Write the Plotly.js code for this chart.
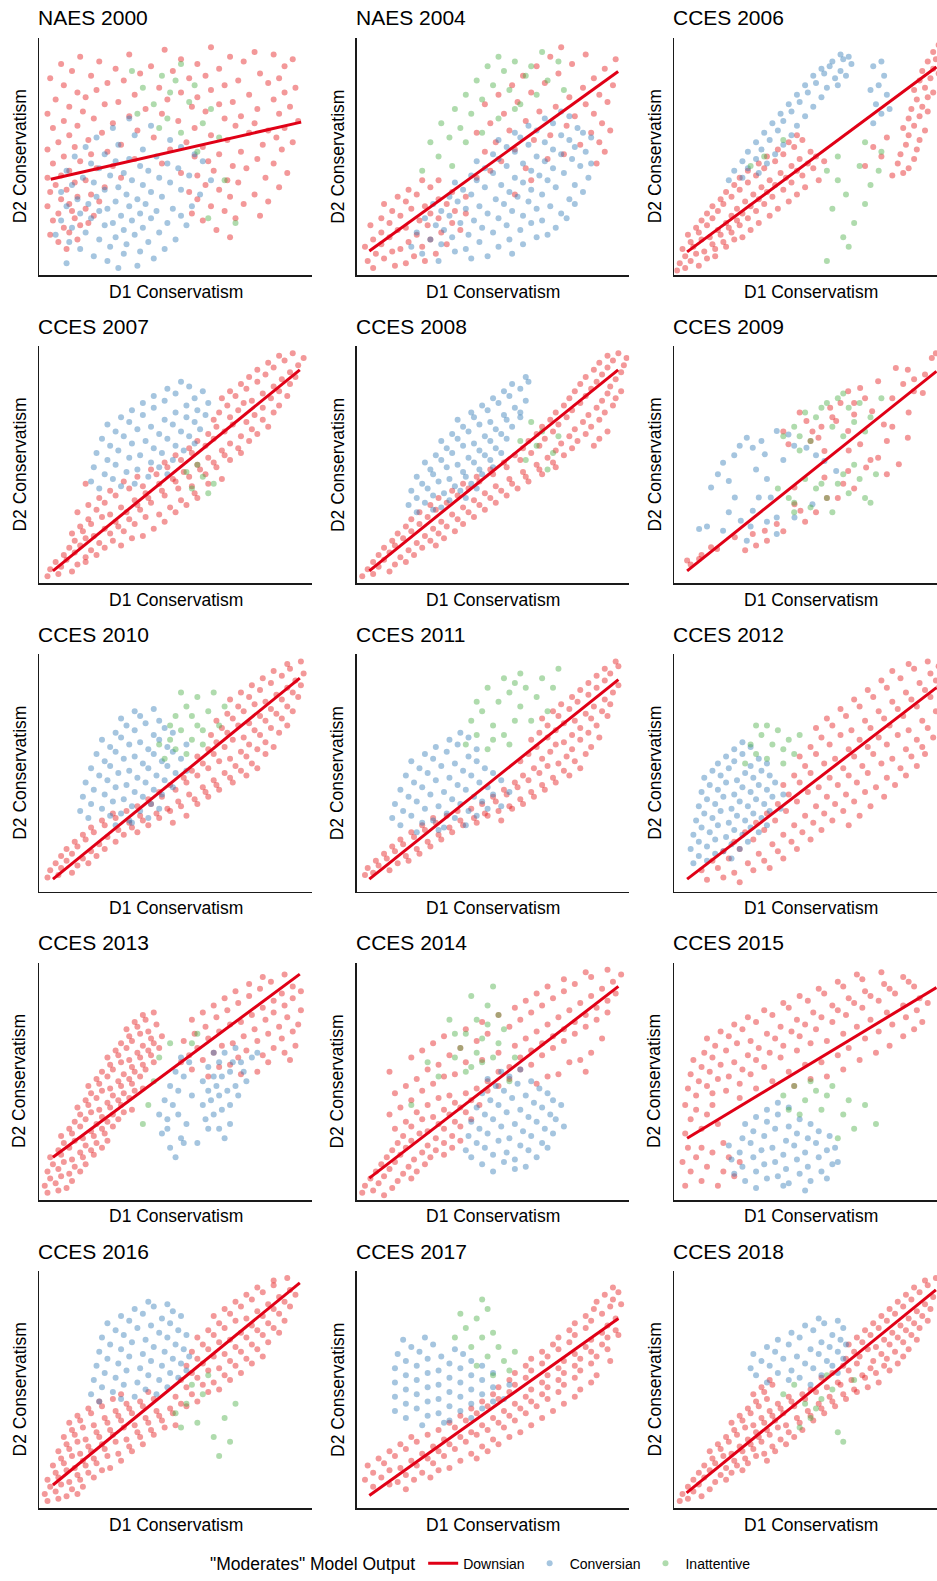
<!DOCTYPE html>
<html><head><meta charset="utf-8">
<script src="https://cdn.plot.ly/plotly-3.0.1.min.js"></script>
<style>html,body{margin:0;padding:0;overflow:hidden;background:#fff}#chart{width:950px;height:1581px}</style>
</head><body><div id="chart"></div>
<script>
// Panel titles (row-major, 3 columns x 5 rows)
const panelTitles = ["NAES 2000","NAES 2004","CCES 2006","CCES 2007","CCES 2008","CCES 2009","CCES 2010","CCES 2011","CCES 2012","CCES 2013","CCES 2014","CCES 2015","CCES 2016","CCES 2017","CCES 2018"];
const classNames = ["Downsian","Conversian","Inattentive"];
const xTitle = "D1 Conservatism";
const yTitle = "D2 Conservatism";
const legendTitle = "\"Moderates\" Model Output";

// Fitted line endpoints per panel: [x0, y0, x1, y1] (axes are unlabelled, 0-100 scale)
const fitLines = [[4.2,40.4,96.1,64.5],[4.6,10.2,95.9,85.8],[4.7,9.8,96.2,87.7],[5,5.3,95.6,90],[4.6,5.3,95.9,90],[4.7,5.3,96.2,89.4],[5,5.3,95.6,90],[4.6,5.3,96,89.4],[4.7,5.3,96.2,86],[5,18,95.6,95.2],[4.6,9.2,96,90],[4.7,26,96.2,89.5],[5,9.8,95.6,95],[4.6,5.4,96,80],[4.5,6.5,96,92]];

// Point arrays: flat [x1,y1, x2,y2, ...] on the unlabelled 0-100 axes.
// ---- NAES 2000
const naes2000Downsian = [46,95,63,96,79,94,15,92,33,93,52,91,70,92,86,93,93,91,8,89,22,90,41,88,58,89,75,90,90,88,12,86,28,87,37,85,49,86,66,87,81,85,4,83,19,84,31,82,55,83,61,84,73,82,88,83,9,80,25,81,44,79,68,80,84,81,94,79,14,77,21,78,35,76,52,77,63,78,77,76,90,77,6,74,17,75,29,73,47,74,58,75,71,73,86,74,11,71,24,72,39,70,56,71,66,72,80,70,92,71,3,68,16,69,33,67,45,68,61,69,74,67,88,68,9,65,20,66,27,64,51,65,68,66,79,64,95,65,5,62,14,63,36,61,57,62,72,63,84,61,90,62,11,59,23,60,42,58,63,59,77,60,87,58,7,56,18,57,30,55,54,56,69,57,82,55,93,56,3,53,13,54,25,52,48,53,60,54,74,52,89,53,9,50,19,51,35,49,57,50,66,51,80,49,5,47,15,48,27,46,45,47,62,48,71,46,86,47,11,44,21,45,52,43,64,44,76,45,91,43,3,41,8,42,17,40,30,41,58,42,69,40,83,41,6,38,13,39,24,37,61,38,73,39,88,37,4,35,10,36,19,34,55,35,66,36,79,34,8,32,14,33,22,31,58,32,70,33,84,31,3,29,11,30,17,28,63,29,75,30,7,26,12,27,20,25,56,26,68,27,81,25,5,23,13,24,18,22,60,23,72,24,9,20,15,21,65,19,4,17,11,18,70,16,7,14,14,15,10,11];
const naes2000Conversian = [33,66,27,62,41,63,21,58,35,59,48,57,17,54,29,55,38,53,52,54,13,50,24,51,33,49,43,50,57,51,19,47,28,48,37,46,47,47,60,48,10,44,22,45,31,43,40,44,51,45,16,41,26,42,34,40,44,41,55,42,63,40,12,38,20,39,29,37,38,38,48,39,8,35,24,36,32,34,41,35,52,36,59,34,14,32,21,33,28,31,36,32,45,33,10,29,18,30,25,28,33,29,39,30,49,28,56,29,15,26,22,27,30,25,37,26,43,27,52,25,8,23,19,24,27,22,34,23,41,24,47,22,12,20,24,21,31,19,38,20,54,21,6,17,17,18,28,16,35,17,44,18,11,14,22,15,32,13,40,14,50,15,15,11,26,12,37,10,46,11,20,8,31,9,42,7,10,5,25,6,36,4,29,3];
const naes2000Inattentive = [34,86,45,84,52,89,38,79,48,77,57,80,42,72,55,73,63,70,47,66,60,64,36,68,66,58,52,60,58,52,68,40,62,24,72,22,44,62,50,82];

// ---- NAES 2004
const naes2004Downsian = [6,3,14,4,4,6,10,7,18,5,25,6,7,9,13,10,21,8,29,9,3,12,9,13,16,11,24,12,33,13,6,15,12,16,19,14,27,15,9,18,15,19,22,17,31,18,38,19,5,21,12,22,18,20,26,21,35,22,9,24,16,25,23,23,30,24,13,27,20,28,27,26,36,27,10,30,18,31,25,29,33,30,15,33,22,34,30,32,40,33,19,36,27,37,35,35,24,40,44,41,49,44,62,45,53,48,70,49,88,47,47,52,58,53,76,51,91,52,51,56,65,57,82,55,89,56,44,60,56,61,71,59,86,60,93,61,49,64,62,65,77,63,90,64,54,68,67,69,80,67,87,68,47,72,59,73,73,71,84,72,92,73,52,76,64,77,78,75,89,76,57,80,69,81,83,79,94,80,61,84,74,85,87,83,66,88,79,89,91,87,71,92,84,93,95,91,75,96,40,26,58,34,64,40,30,40];
const naes2004Conversian = [30,6,42,7,24,9,36,10,48,8,57,9,20,12,31,13,40,11,52,12,61,13,27,15,35,16,45,14,56,15,66,16,22,18,32,19,41,17,50,18,60,19,70,17,29,21,38,22,46,20,55,21,64,22,73,20,25,24,34,25,43,23,52,24,61,25,68,23,77,24,31,27,40,28,48,26,57,27,66,28,75,26,28,30,37,31,45,29,54,30,63,31,71,29,80,30,34,33,42,34,51,32,59,33,68,34,78,32,39,36,47,37,56,35,64,36,73,37,83,35,36,39,44,40,53,38,61,39,70,40,80,38,42,42,50,43,58,41,67,42,76,43,85,41,47,45,55,46,64,44,72,45,82,46,44,48,52,49,61,47,69,48,79,49,86,47,50,51,58,52,66,50,75,51,84,52,55,54,63,55,72,53,80,54,52,57,60,58,69,56,78,57,86,58,58,60,66,61,75,59,83,60,63,63,72,64,81,62,69,66,78,67,75,69];
const naes2004Inattentive = [24,44,30,50,27,56,34,58,31,64,38,62,36,70,42,68,40,76,46,74,44,82,50,80,48,88,54,86,52,92,58,90,56,78,62,84,60,72,66,76,64,88,70,82,68,94,74,90,46,60,52,66,58,70,40,56,76,78,35,46];

// ---- CCES 2006
const cces2006Downsian = [1,2,4,3,2,5,6,6,9,4,4,8,8,9,12,7,15,8,3,11,7,12,11,10,15,11,19,12,6,14,10,15,14,13,18,14,22,15,5,17,9,18,13,16,17,17,21,18,25,16,8,20,12,21,16,19,20,20,24,21,28,19,10,23,14,24,19,22,23,23,27,24,31,22,12,26,16,27,21,25,25,26,30,27,35,25,14,29,18,30,23,28,28,29,33,30,38,28,17,32,21,33,26,31,31,32,36,33,42,31,19,35,24,36,29,34,34,35,40,36,45,34,22,38,27,39,32,37,37,38,43,39,48,37,24,41,30,42,35,40,41,41,47,42,53,40,27,44,33,45,39,43,45,44,51,45,31,47,37,48,43,46,49,47,55,48,34,50,40,51,46,49,52,50,38,53,44,54,50,52,42,56,47,57,45,59,80,42,84,43,70,46,82,47,86,45,76,50,83,51,88,49,73,54,85,55,89,53,78,58,86,59,90,57,84,62,88,63,92,61,86,66,90,67,87,70,91,71,93,69,89,74,93,75,88,78,92,79,95,77,90,82,94,83,91,86,95,87,97,85,93,90,96,91,95,94,98,95,97,97,99,98];
const cces2006Conversian = [20,40,25,41,22,44,27,45,31,43,25,48,30,49,34,47,27,52,32,53,37,51,30,56,35,57,40,55,33,60,38,61,43,59,36,64,40,65,45,63,39,68,43,69,48,67,42,72,46,73,51,71,45,76,49,77,54,75,48,80,52,81,56,79,60,80,51,84,55,85,59,83,63,84,54,87,57,88,61,86,58,90,62,91,65,89,61,93,64,92,73,64,76,68,74,72,78,76,75,80,77,84,73,88,76,90,79,70,72,78];
const cces2006Inattentive = [28,46,33,50,40,57,56,44,60,40,63,34,58,28,66,22,62,16,70,30,72,38,75,44,68,46,64,12,56,6,76,52,70,56,60,50];

// ---- CCES 2007
const cces2007Downsian = [3,3,7,4,4,6,8,7,12,5,6,9,10,10,14,8,17,9,9,12,13,13,17,11,21,12,11,15,15,16,19,14,24,15,30,16,13,18,17,19,22,17,27,18,34,19,12,21,16,22,20,20,26,21,31,22,38,20,15,24,19,25,24,23,29,24,35,25,42,23,18,27,23,28,28,26,33,27,39,28,46,26,14,30,21,31,26,29,32,30,37,31,44,29,50,30,18,33,24,34,30,32,36,33,41,34,48,32,54,33,22,36,28,37,35,35,40,36,46,37,52,35,58,36,26,39,33,40,39,38,45,39,51,40,57,38,17,42,31,43,38,41,44,42,50,43,56,41,62,42,36,45,43,46,49,44,55,45,61,46,67,44,41,48,47,49,53,47,59,48,65,49,46,51,52,52,58,50,64,51,70,52,50,54,56,55,62,53,68,54,74,55,55,57,61,58,67,56,73,57,58,60,64,61,70,59,77,60,62,63,68,64,74,62,80,63,65,66,71,67,78,65,84,66,64,69,70,70,76,68,82,69,66,72,73,73,79,71,86,72,69,75,75,76,82,74,88,75,67,78,72,79,78,77,85,78,91,79,70,81,76,82,82,80,88,81,74,84,80,85,86,83,92,84,77,87,83,88,89,86,94,87,80,90,86,91,92,89,84,93,90,94,95,92,88,96,93,97,97,95];
const cces2007Conversian = [22,40,30,41,19,43,27,44,35,42,24,46,32,47,40,45,47,46,20,49,28,50,36,48,44,49,25,52,33,53,41,51,49,52,21,55,29,56,37,54,45,55,53,56,26,58,34,59,42,57,50,58,57,59,23,61,31,62,39,60,47,61,55,62,28,64,36,65,44,63,52,64,59,65,25,67,33,68,41,66,49,67,57,68,30,70,38,71,46,69,54,70,61,71,34,73,42,74,50,72,58,73,38,76,46,77,54,75,62,76,42,79,50,80,57,78,47,82,55,83,60,81,52,85];
const cces2007Inattentive = [56,40,60,45,58,50,64,42,54,47,62,38];

// ---- CCES 2008
const cces2008Downsian = [2,3,6,4,4,6,8,7,12,5,6,9,10,10,14,8,18,9,8,12,12,13,16,11,21,12,10,15,14,16,19,14,24,15,29,16,13,18,17,19,22,17,27,18,32,19,15,21,20,22,25,20,30,21,36,22,18,24,23,25,28,23,33,24,39,25,20,27,26,28,31,26,37,27,43,28,23,30,29,31,35,29,41,30,47,31,27,33,33,34,39,32,45,33,51,34,30,36,37,37,43,35,49,36,55,37,35,39,41,40,47,38,53,39,59,40,39,42,45,43,51,41,57,42,63,43,44,45,50,46,56,44,62,45,68,46,49,48,55,49,61,47,67,48,73,49,54,51,60,52,66,50,72,51,58,54,64,55,70,53,76,54,61,57,67,58,73,56,79,57,87,58,63,60,69,61,75,59,81,60,89,61,66,63,72,64,78,62,84,63,92,64,68,66,74,67,80,65,86,66,71,69,77,70,83,68,89,69,73,72,79,73,85,71,91,72,76,75,82,76,88,74,94,75,78,78,84,79,90,77,95,78,80,81,86,82,92,80,97,81,82,84,88,85,93,83,84,87,90,88,95,86,87,90,92,91,97,89,89,93,94,94,98,92,92,96,96,97,99,95];
const cces2008Conversian = [22,30,28,31,19,33,25,34,31,32,22,36,28,37,34,35,40,36,20,39,26,40,32,38,38,39,44,40,24,42,30,43,36,41,42,42,22,45,28,46,34,44,40,45,46,46,27,48,33,49,39,47,45,48,50,49,25,51,31,52,37,50,43,51,49,52,29,54,35,55,41,53,47,54,53,55,33,57,39,58,45,56,51,57,31,60,37,61,43,59,49,60,55,61,35,63,41,64,47,62,53,63,39,66,45,67,51,65,57,66,37,69,43,70,49,68,55,69,60,70,42,72,48,73,54,71,60,72,46,75,52,76,58,74,50,78,56,79,62,77,54,81,60,82,57,84,63,85,62,87];
const cces2008Inattentive = [62,52,66,58,68,64,70,48,72,55,64,68,60,60,74,62];

// ---- CCES 2009
const cces2009Downsian = [81.3,90.8,85.7,90.1,94.5,95,74.8,85.2,68.2,82.4,63.8,81,57.2,74,72.6,72.6,76.9,67,85.7,61.4,82.4,50.2,87.9,81,91.2,80.3,48.5,68.4,59.4,68.4,63.8,64.2,66,71.2,52.9,61.4,41.9,58.6,55.1,55.8,68.2,58.6,44.1,40.4,44.1,33.4,55.1,44.6,63.8,47.4,70.4,48.8,74.8,53,46.3,30.6,37.6,25,28.8,20.8,33.2,22.2,22.2,19.4,4.7,9.6,9.1,10.3,13.5,15.2,15.7,14.5,50.7,64,61,76,80,78,78,60,60,36,66,40,40,64,46,72,30,16,88,86,92,88,96,97,84,84,70,78,66,76,58,70,54,66,50,60,64,56,72,52,78,46,48,26,52,30,56,36,62,42,40,22,34,18,26,14,6,8,10,12,86,72,80,66];
const cces2009Conversian = [13.5,40.4,17.9,50.9,26.6,61.4,28.8,57.2,33.2,54.4,37.6,64.2,41.9,62.8,48.5,57.2,55.1,51.6,59.4,47.4,20,43.2,22.2,36.2,28.8,30.6,37.6,27.8,31,36.2,24.4,26.4,17.9,22.2,9.1,22.9,37.6,20.8,44.1,27.8,50.7,33.4,26.6,18,35.4,36.2,30,48,40,52,22,54,34,44,16,46,24,58,32,60,44,58,52,54,20,30,28,24,34,26,12,24];
const cces2009Inattentive = [40,62,44,66,48,72,52,70,56,76,60,78,64,74,68,76,72,70,58,66,50,60,46,56,62,62,70,64,76,78,38,40,42,36,48,44,52,40,56,36,60,42,64,38,68,44,72,34,58,30,50,32,44,30,66,50,74,46,46,62,54,74,62,80,66,68,44,34,54,42,62,46,70,36];

// ---- CCES 2010
const cces2010Downsian = [3,6,7,7,4,9,8,10,12,8,6,12,10,13,14,11,18,12,8,15,12,16,16,14,21,15,10,18,14,19,19,17,24,18,13,21,17,22,22,20,28,21,16,24,20,25,25,23,31,24,36,25,19,27,24,28,29,26,34,27,40,28,23,30,28,31,33,29,38,30,44,31,49,29,27,33,32,34,37,32,43,33,48,34,54,32,36,36,41,37,47,35,52,36,58,37,40,39,45,40,51,38,57,39,62,40,44,42,50,43,55,41,61,42,66,43,48,45,54,46,60,44,65,45,71,46,53,48,58,49,64,47,70,48,76,49,56,51,62,52,68,50,74,51,80,52,60,54,66,55,72,53,78,54,58,57,64,58,70,56,76,57,83,58,62,60,68,61,74,59,80,60,86,61,65,63,71,64,77,62,83,63,63,66,69,67,75,65,81,66,88,67,67,69,73,70,79,68,85,69,91,70,65,72,71,73,77,71,83,72,89,73,69,75,75,76,81,74,87,75,93,76,73,78,79,79,85,77,91,78,70,81,77,82,83,80,89,81,95,82,74,84,81,85,87,83,93,84,78,87,85,88,91,86,96,87,82,90,89,91,94,89,86,93,92,94,97,92,91,96,96,97];
const cces2010Conversian = [28,28,34,29,18,31,26,32,33,30,40,31,15,34,23,35,30,33,37,34,44,35,19,37,27,38,34,36,41,37,16,40,24,41,31,39,38,40,45,41,20,43,28,44,35,42,42,43,49,44,17,46,25,47,32,45,39,46,46,47,22,49,29,50,36,48,43,49,50,50,19,52,26,53,33,51,40,52,47,53,54,51,24,55,31,56,38,54,45,55,52,56,21,58,28,59,35,57,42,58,49,59,26,61,33,62,40,60,47,61,54,62,23,64,30,65,37,63,44,64,28,67,35,68,42,66,49,67,32,70,39,71,46,69,30,73,37,74,44,72,35,76,42,77];
const cces2010Inattentive = [46,56,50,60,54,58,48,64,52,68,56,64,60,62,58,70,50,74,54,78,62,76,66,70,52,84,58,82,64,84,68,78,48,70,56,74,60,68,44,62];

// ---- CCES 2011
const cces2011Downsian = [3,7,6,8,4,10,8,11,12,9,7,13,11,14,15,12,19,13,10,16,14,17,18,15,23,16,13,19,17,20,22,18,27,19,16,22,21,23,26,21,31,22,20,25,25,26,30,24,35,25,24,28,29,29,34,27,39,28,44,29,28,31,33,32,38,30,43,31,48,32,53,30,37,34,42,35,47,33,52,34,57,35,46,37,51,38,56,36,61,37,50,40,55,41,60,39,65,40,54,43,59,44,64,42,69,43,58,46,63,47,68,45,73,46,61,49,67,50,72,48,78,49,65,52,70,53,76,51,82,52,60,55,68,56,74,54,80,55,63,58,71,59,77,57,84,58,66,61,73,62,79,60,86,61,64,64,70,65,76,63,82,64,89,65,67,67,73,68,79,66,85,67,70,70,76,71,82,69,88,70,68,73,74,74,80,72,86,73,92,74,72,76,78,77,84,75,90,76,75,79,81,80,87,78,93,79,79,82,85,83,91,81,82,85,88,86,94,84,85,88,91,89,96,87,88,91,93,92,91,94,96,95,95,97];
const cces2011Conversian = [22,25,30,26,16,28,24,29,32,27,40,28,13,31,20,32,28,30,36,31,44,32,17,34,25,35,33,33,41,34,48,35,14,37,22,38,30,36,38,37,46,38,53,36,19,40,27,41,35,39,43,40,50,41,16,43,24,44,32,42,40,43,48,44,56,42,21,46,29,47,37,45,45,46,53,47,18,49,26,50,34,48,42,49,50,50,23,52,31,53,39,51,47,52,20,55,28,56,36,54,44,55,25,58,33,59,41,57,29,61,37,62,44,60,34,64,41,65,38,67];
const cces2011Inattentive = [40,62,44,66,48,60,42,72,46,76,50,70,54,66,58,72,52,80,56,84,60,78,62,86,66,82,64,72,68,90,72,86,48,86,54,90,60,92,70,76,44,80,56,62,74,94,50,64,58,88];

// ---- CCES 2012
const cces2012Downsian = [12,5,18,6,24,4,10,9,16,10,22,8,29,9,35,10,14,13,20,14,27,12,33,13,40,14,18,17,24,18,31,16,38,17,45,18,22,21,29,22,36,20,43,21,50,22,26,25,33,26,40,24,47,25,54,26,30,29,37,30,44,28,51,29,58,30,64,28,34,33,41,34,48,32,55,33,62,34,68,32,38,37,45,38,52,36,59,37,66,38,72,36,42,41,49,42,56,40,63,41,70,42,77,40,40,45,46,46,53,44,60,45,67,46,74,44,81,45,44,49,50,50,57,48,64,49,71,50,78,48,85,49,48,53,55,54,62,52,69,53,76,54,83,52,89,53,46,57,52,58,59,56,66,57,73,58,80,56,87,57,92,58,50,61,57,62,64,60,71,61,78,62,85,60,91,61,54,65,61,66,68,64,75,65,82,66,89,64,95,65,52,69,58,70,65,68,72,69,79,70,86,68,93,69,56,73,63,74,70,72,77,73,84,74,91,72,61,77,68,78,75,76,82,77,89,78,96,76,66,81,73,82,80,80,87,81,94,82,71,85,78,86,85,84,92,85,97,86,76,89,83,90,90,88,96,89,80,93,88,94,94,92,98,93,86,96,93,97,97,95];
const cces2012Conversian = [7,12,12,13,9,15,15,16,21,14,6,18,12,19,18,17,24,18,9,21,15,22,21,20,27,21,7,24,13,25,19,23,25,24,31,25,10,27,16,28,22,26,28,27,34,28,8,30,14,31,20,29,26,30,32,31,11,33,17,34,23,32,29,33,35,34,9,36,15,37,21,35,27,36,33,37,39,35,12,39,18,40,24,38,30,39,36,40,10,42,16,43,22,41,28,42,34,43,40,41,13,45,19,46,25,44,31,45,37,46,11,48,17,49,23,47,29,48,35,49,14,51,20,52,26,50,32,51,16,54,22,55,28,53,34,54,19,57,25,58,31,56,22,60,28,61,25,63];
const cces2012Inattentive = [26,54,30,58,34,56,28,62,32,66,36,62,40,60,38,68,42,64,44,58,30,70,46,66,34,70,40,54];

// ---- CCES 2013
const cces2013Downsian = [3,3,7,4,2,6,6,7,10,5,4,9,8,10,12,8,3,12,7,13,11,11,15,12,5,15,9,16,13,14,17,15,4,18,8,19,12,17,16,18,20,19,7,21,11,22,15,20,19,21,23,22,9,24,13,25,17,23,21,24,25,25,8,27,12,28,16,26,20,27,24,28,11,30,15,31,19,29,23,30,27,31,13,33,17,34,21,32,25,33,29,34,15,36,19,37,23,35,27,36,31,37,14,39,18,40,22,38,26,39,30,40,34,38,17,42,21,43,25,41,29,42,33,43,19,45,23,46,27,44,31,45,35,46,18,48,22,49,26,47,30,48,34,49,38,47,21,51,25,52,29,50,33,51,37,52,23,54,27,55,31,53,35,54,39,55,26,57,30,58,34,56,38,57,42,58,25,60,29,61,33,59,37,60,41,61,28,63,32,64,36,62,40,63,44,64,30,66,34,67,38,65,42,66,33,69,37,70,41,68,45,69,32,72,36,73,40,71,35,75,39,76,43,74,38,78,42,79,62,52,74,53,56,55,66,56,80,54,52,58,60,59,70,57,84,58,92,59,55,61,64,62,73,60,82,61,90,62,58,64,67,65,76,63,86,64,94,65,53,67,62,68,71,66,80,67,89,68,57,70,66,71,75,69,84,70,93,71,61,73,70,74,79,72,88,73,95,74,56,76,65,77,74,75,83,76,91,77,60,79,69,80,78,78,86,79,96,80,64,82,73,83,82,81,90,82,68,85,77,86,86,84,93,85,72,88,81,89,89,87,96,88,77,91,85,92,93,90,82,94,90,95];
const cces2013Conversian = [45,28,47,34,49,40,51,46,53,52,55,58,48,22,50,18,52,26,54,32,46,42,48,48,50,54,44,36,52,60,56,44,47,30,51,36,53,24,60,40,62,46,64,52,66,58,68,62,70,54,72,48,64,36,66,30,68,26,62,56,60,50,66,44,70,40,74,58,76,50,78,60,62,30,58,24,72,64,70,32,64,62,65,48,69,46,63,42,67,38,71,58,73,44,75,54,80,62,61,34,67,52];
const cces2013Inattentive = [44,60,48,66,56,66,40,40,38,32,58,70,42,50];

// ---- CCES 2014
const cces2014Downsian = [2,3,6,4,10,2,3,6,8,7,13,5,5,9,10,10,15,8,20,9,7,12,12,13,17,11,22,12,9,15,14,16,19,14,25,15,11,18,16,19,21,17,27,18,32,19,13,21,18,22,24,20,29,21,35,22,15,24,20,25,26,23,32,24,38,25,17,27,23,28,29,26,35,27,14,30,20,31,26,29,32,30,38,31,18,33,24,34,30,32,36,33,42,34,12,36,22,37,28,35,34,36,40,37,16,39,26,40,32,38,38,39,45,40,20,42,30,43,36,41,42,42,14,45,24,46,34,44,40,45,48,46,18,48,28,49,44,47,52,48,66,49,22,51,32,52,48,50,56,51,70,52,12,54,26,55,36,53,52,54,60,55,74,53,84,54,30,57,40,58,56,56,64,57,78,58,20,60,34,61,46,59,60,60,68,61,82,59,24,63,38,64,52,62,64,63,72,64,86,62,28,66,44,67,58,65,68,66,76,67,32,69,48,70,62,68,72,69,80,70,90,68,40,72,56,73,66,71,76,72,84,73,46,75,60,76,70,74,80,75,88,76,52,78,64,79,74,77,84,78,92,79,58,81,68,82,78,80,88,81,62,84,72,85,82,83,92,84,66,87,76,88,86,86,95,87,70,90,80,91,90,89,76,93,86,94,94,92,84,96,92,97,97,95];
const cces2014Conversian = [50,12,58,13,46,15,54,16,62,14,42,18,50,19,58,17,66,18,40,21,47,22,55,20,63,21,70,22,44,24,52,25,60,23,68,24,41,27,48,28,56,26,64,27,72,28,45,30,53,31,61,29,69,30,76,31,42,33,50,34,58,32,66,33,73,34,47,36,55,37,63,35,71,36,44,39,52,40,60,38,68,39,75,40,49,42,57,43,65,41,72,42,46,45,54,46,62,44,70,45,51,48,59,49,67,47,48,51,56,52,64,50,53,54,60,55];
const cces2014Inattentive = [36,60,38,64,40,70,42,56,44,62,46,68,48,74,50,60,52,66,54,72,40,54,44,76,36,70,30,52,26,58,48,82,50,90,42,86,58,60,20,40,56,50,34,76,46,58,52,78];

// ---- CCES 2015
const cces2015Downsian = [8,44,14,45,24,43,5,47,12,48,19,46,30,47,44,48,9,50,16,51,24,49,36,50,50,51,6,53,13,54,20,52,28,53,42,54,56,52,10,56,17,57,25,55,33,56,48,57,62,55,7,59,14,60,22,58,30,59,39,60,54,58,68,59,11,62,19,63,27,61,35,62,45,63,60,61,74,62,15,65,23,66,31,64,40,65,50,66,64,64,79,65,12,68,20,69,28,67,37,68,46,69,56,67,70,68,84,69,17,71,25,72,34,70,43,71,52,72,62,70,75,71,88,72,22,74,30,75,39,73,48,74,58,75,67,73,80,74,91,75,27,77,36,78,45,76,54,77,63,78,72,76,85,77,33,80,42,81,51,79,60,80,69,81,78,79,89,80,40,83,49,84,58,82,66,83,75,84,84,82,93,83,46,86,55,87,64,85,72,86,81,87,90,85,53,89,62,90,70,88,79,89,88,90,60,92,69,93,77,91,86,92,67,95,76,96,84,94,4,28,6,34,8,38,10,30,12,36,14,40,4,40,16,32,4,6,6,12,8,18,10,8,12,14,14,20,16,6,18,12,20,18,22,10,5,22,24,16,10,22,18,24,3,16];
const cces2015Conversian = [30,5,40,6,48,4,26,8,34,9,42,7,50,8,56,9,22,11,30,12,38,10,46,11,54,12,25,14,33,15,41,13,49,14,58,15,21,17,29,18,37,16,45,17,53,18,60,16,24,20,32,21,40,19,48,20,56,21,20,23,28,24,36,22,44,23,52,24,59,22,25,26,33,27,41,25,49,26,57,27,29,29,37,30,45,28,53,29,26,32,34,33,42,31,50,32,30,35,38,36,46,34,34,38,42,39,38,41];
const cces2015Inattentive = [40,44,44,48,48,42,52,46,54,38,56,44,62,36,66,30,70,40,74,32,46,36,50,50,60,26,42,38,58,48,64,42];

// ---- CCES 2016
const cces2016Downsian = [3,3,7,4,2,6,6,7,10,5,14,6,4,9,8,10,12,8,16,9,3,12,7,13,11,11,15,12,20,13,6,15,10,16,14,14,18,15,23,16,5,18,9,19,13,17,17,18,21,19,26,17,8,21,12,22,16,20,20,21,25,22,30,20,7,24,11,25,15,23,19,24,24,25,29,23,34,24,10,27,14,28,18,26,23,27,28,28,33,26,38,27,9,30,13,31,17,29,22,30,27,31,32,29,37,30,42,31,12,33,16,34,21,32,26,33,31,34,36,32,41,33,46,34,11,36,15,37,20,35,25,36,30,37,35,35,40,36,45,37,50,35,14,39,19,40,24,38,29,39,34,40,39,38,44,39,49,40,18,42,23,43,28,41,33,42,38,43,43,41,48,42,54,43,22,45,27,46,32,44,37,45,42,46,52,44,58,45,30,48,40,49,50,47,56,48,62,49,54,51,60,52,66,50,52,54,58,55,64,53,70,54,56,57,62,58,68,56,74,57,54,60,60,61,66,59,72,60,78,61,58,63,64,64,70,62,76,63,82,64,56,66,62,67,68,65,74,66,80,67,60,69,66,70,72,68,78,69,84,70,58,72,64,73,70,71,76,72,82,73,88,74,62,75,68,76,74,74,80,75,86,76,66,78,72,79,78,77,84,78,90,79,64,81,70,82,76,80,82,81,88,82,68,84,74,85,80,83,86,84,92,85,72,87,78,88,84,86,90,87,76,90,82,91,88,89,94,90,80,93,86,94,92,92,86,96,91,97];
const cces2016Conversian = [22,45,30,46,19,48,27,49,35,47,43,48,23,51,31,52,39,50,47,51,20,54,28,55,36,53,44,54,51,55,24,57,32,58,40,56,48,57,54,58,21,60,29,61,37,59,45,60,52,61,25,63,33,64,41,62,49,63,55,64,22,66,30,67,38,65,46,66,53,67,26,69,34,70,42,68,50,69,23,72,31,73,39,71,47,72,54,73,28,75,36,76,44,74,51,75,25,78,33,79,41,77,48,78,30,81,38,82,45,80,52,81,35,84,42,85,49,83,40,87,47,86];
const cces2016Inattentive = [50,40,54,44,58,36,60,48,64,30,68,38,70,28,62,56,56,52,72,44,66,22,52,34];

// ---- CCES 2017
const cces2017Downsian = [6,9,12,10,18,8,3,12,9,13,15,11,21,12,27,13,6,15,12,16,18,14,24,15,30,16,4,18,10,19,16,17,22,18,28,19,34,17,8,21,14,22,20,20,26,21,32,22,38,20,44,21,12,24,18,25,24,23,30,24,36,25,42,23,48,24,16,27,22,28,28,26,34,27,40,28,46,26,52,27,20,30,26,31,32,29,38,30,44,31,50,29,56,30,30,33,36,34,42,32,48,33,54,34,60,32,34,36,40,37,46,35,52,36,58,37,64,35,38,39,44,40,50,38,56,39,62,40,68,38,42,42,48,43,54,41,60,42,66,43,72,41,46,45,52,46,58,44,64,45,70,46,76,44,50,48,56,49,62,47,68,48,74,49,80,47,52,51,58,52,64,50,70,51,76,52,82,50,56,54,62,55,68,53,74,54,80,55,86,53,58,57,64,58,70,56,76,57,82,58,88,56,62,60,68,61,74,59,80,60,86,61,64,63,70,64,76,62,82,63,88,64,93,62,68,66,74,67,80,65,86,66,92,67,72,69,78,70,84,68,90,69,74,72,80,73,86,71,92,72,96,73,78,75,84,76,90,74,95,75,80,78,86,79,92,77,84,81,90,82,95,80,87,84,93,85,88,87,94,88,97,86,91,90,96,91,94,93];
const cces2017Conversian = [24,35,32,36,18,38,26,39,34,37,42,38,14,41,22,42,30,40,38,41,46,42,18,44,26,45,34,43,42,44,50,45,14,47,22,48,30,46,38,47,46,48,54,46,18,50,26,51,34,49,42,50,50,51,14,53,22,54,30,52,38,53,46,54,56,52,18,56,26,57,34,55,42,56,50,57,14,59,22,60,30,58,38,59,46,60,18,62,26,63,34,61,42,62,15,65,23,66,31,64,39,65,20,68,28,69,36,67,17,71,25,72];
const cces2017Inattentive = [36,72,40,76,44,80,48,84,42,68,46,72,50,74,52,68,54,62,56,58,48,64,38,82,58,66,44,60,50,56,46,88];

// ---- CCES 2018
const cces2018Downsian = [2,3,5,4,3,6,7,7,10,5,5,9,9,10,13,8,7,12,11,13,15,11,19,12,9,15,13,16,17,14,21,15,25,16,11,18,15,19,19,17,23,18,27,19,14,21,18,22,22,20,26,21,30,22,34,20,13,24,17,25,21,23,25,24,29,25,33,23,37,24,16,27,20,28,24,26,28,27,32,28,36,26,41,27,19,30,23,31,27,29,31,30,35,31,39,29,44,30,22,33,26,34,30,32,34,33,38,34,42,32,47,33,21,36,25,37,29,35,33,36,37,37,41,35,46,36,51,37,24,39,28,40,32,38,36,39,40,40,45,38,50,39,55,40,27,42,31,43,35,41,39,42,44,43,49,41,54,42,59,43,30,45,34,46,38,44,43,45,48,46,53,44,58,45,63,46,29,48,33,49,42,47,47,48,52,49,57,47,62,48,67,49,32,51,36,52,50,50,56,51,61,52,66,50,71,51,35,54,54,55,60,53,65,54,70,55,75,53,58,57,64,58,69,56,74,57,79,58,62,60,67,61,72,59,77,60,82,61,63,63,68,64,73,62,78,63,84,64,66,66,71,67,76,65,81,66,86,67,64,69,69,70,74,68,79,69,84,70,89,71,67,72,72,73,77,71,82,72,87,73,70,75,75,76,80,74,85,75,90,76,73,78,78,79,83,77,88,78,93,79,76,81,81,82,86,80,91,81,79,84,84,85,89,83,94,84,82,87,87,88,92,86,85,90,90,91,95,89,88,93,93,94,92,96,96,97];
const cces2018Conversian = [34,53,42,54,50,52,30,56,38,57,46,55,54,56,60,57,28,59,35,60,43,58,51,59,58,60,32,62,40,63,48,61,56,62,62,63,29,65,37,66,45,64,53,65,60,66,34,68,42,69,50,67,57,68,63,69,38,71,46,72,54,70,61,71,43,74,51,75,58,73,48,77,55,78,62,76,53,80,60,79];
const cces2018Inattentive = [40,48,44,52,48,44,50,38,54,46,58,50,60,32,62,28,56,56,66,54,52,42,46,34];

const downsianSets = [naes2000Downsian,naes2004Downsian,cces2006Downsian,cces2007Downsian,cces2008Downsian,cces2009Downsian,cces2010Downsian,cces2011Downsian,cces2012Downsian,cces2013Downsian,cces2014Downsian,cces2015Downsian,cces2016Downsian,cces2017Downsian,cces2018Downsian];
const conversianSets = [naes2000Conversian,naes2004Conversian,cces2006Conversian,cces2007Conversian,cces2008Conversian,cces2009Conversian,cces2010Conversian,cces2011Conversian,cces2012Conversian,cces2013Conversian,cces2014Conversian,cces2015Conversian,cces2016Conversian,cces2017Conversian,cces2018Conversian];
const inattentiveSets = [naes2000Inattentive,naes2004Inattentive,cces2006Inattentive,cces2007Inattentive,cces2008Inattentive,cces2009Inattentive,cces2010Inattentive,cces2011Inattentive,cces2012Inattentive,cces2013Inattentive,cces2014Inattentive,cces2015Inattentive,cces2016Inattentive,cces2017Inattentive,cces2018Inattentive];

// ---- layout geometry (pixels)
const W = 950, H = 1581;
const colLeft0 = 39.3, colStep = 317.5, plotW = 272.5;
const rowBottom0 = 276, rowStep = 309.25, plotH = 238;
const FONT = "Liberation Sans, Arial, Helvetica, sans-serif";
const RED = "#E41A1C", BLUE = "#377EB8", GREEN = "#4DAF4A", LINE_RED = "#E00016";

const xs = a => a.filter((v, k) => k % 2 === 0);
const ys = a => a.filter((v, k) => k % 2 === 1);

const traces = [];
const layout = {
  width: W, height: H,
  margin: {l:0, r:0, t:0, b:0, pad:0},
  paper_bgcolor: "#fff", plot_bgcolor: "rgba(0,0,0,0)",
  font: {family: FONT, color: "#000"},
  showlegend: true,
  legend: {
    orientation: "h", x: 208/W, xanchor: "left", y: (H-1569)/H, yanchor: "middle",
    bgcolor: "rgba(0,0,0,0)", borderwidth: 0,
    title: {text: legendTitle, side: "left", font: {size: 17.5, family: FONT, color: "#000"}},
    font: {size: 14, family: FONT, color: "#000"},
    itemwidth: 30, tracegroupgap: 0
  },
  annotations: [],
  hovermode: false
};

panelTitles.forEach((title, i) => {
  const r = Math.floor(i / 3), c = i % 3;
  const left = colLeft0 + c * colStep, right = left + plotW;
  const bottom = rowBottom0 + r * rowStep, top = bottom - plotH;
  const ax = i === 0 ? "" : String(i + 1);
  const axisStyle = {range: [0, 100], showline: true, linecolor: "#1a1a1a", linewidth: 1.6, ticks: "",
    showticklabels: false, showgrid: false, zeroline: false, fixedrange: true};
  layout["xaxis" + ax] = Object.assign({domain: [left / W, right / W], anchor: "y" + ax}, axisStyle);
  layout["yaxis" + ax] = Object.assign({domain: [(H - bottom) / H, (H - top) / H], anchor: "x" + ax}, axisStyle);
  const xa = "x" + ax, ya = "y" + ax;
  const mk = (pts, name, color, legend, rank) => ({
    type: "scatter", mode: "markers", xaxis: xa, yaxis: ya,
    x: xs(pts), y: ys(pts),
    name: name, showlegend: legend, legendrank: rank, cliponaxis: true,
    marker: {color: color, size: 6, opacity: 0.45, line: {width: 0}}
  });
  traces.push(mk(downsianSets[i], classNames[0], RED, false, 1));
  traces.push(mk(conversianSets[i], classNames[1], BLUE, i === 0, 2));
  traces.push(mk(inattentiveSets[i], classNames[2], GREEN, i === 0, 3));
  const L = fitLines[i];
  traces.push({
    type: "scatter", mode: "lines", xaxis: xa, yaxis: ya,
    x: [L[0], L[2]], y: [L[1], L[3]], name: classNames[0],
    showlegend: i === 0, legendrank: 1,
    line: {color: LINE_RED, width: 3}
  });
  layout.annotations.push({
    text: title, xref: "paper", yref: "paper", x: (left - 3) / W, y: (H - (top - 20)) / H,
    xanchor: "left", yanchor: "middle", showarrow: false,
    font: {size: 21, family: FONT, color: "#000"}
  });
  layout.annotations.push({
    text: xTitle, xref: "paper", yref: "paper", x: (left + right) / 2 / W, y: (H - (bottom + 16.5)) / H,
    xanchor: "center", yanchor: "middle", showarrow: false,
    font: {size: 17.5, family: FONT, color: "#000"}
  });
  layout.annotations.push({
    text: yTitle, xref: "paper", yref: "paper", x: (left - 19.5) / W, y: (H - (top + bottom) / 2) / H,
    xanchor: "center", yanchor: "middle", textangle: -90, showarrow: false,
    font: {size: 17.5, family: FONT, color: "#000"}
  });
});

Plotly.newPlot("chart", traces, layout, {staticPlot: true, displayModeBar: false});
</script></body></html>
